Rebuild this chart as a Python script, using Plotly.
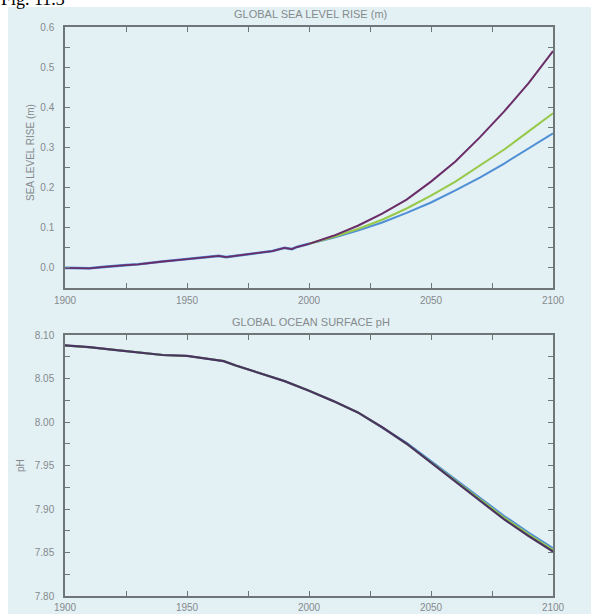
import plotly.graph_objects as go

W, H = 591, 614

# ---------------- data ----------------
hist_years = [1900, 1905, 1910, 1915, 1920, 1925, 1930, 1935, 1940, 1945, 1950, 1955,
              1960, 1963, 1966, 1970, 1975, 1980, 1985, 1990, 1993, 1995]
hist_slr = [0.0, 0.0, -0.001, 0.002, 0.005, 0.007, 0.009, 0.013, 0.016, 0.019, 0.022, 0.025,
            0.028, 0.030, 0.027, 0.030, 0.034, 0.039, 0.042, 0.050, 0.047, 0.052]

proj_years = [2000, 2010, 2020, 2030, 2040, 2050, 2060, 2070, 2080, 2090, 2100]
slr_purple = [0.060, 0.080, 0.105, 0.135, 0.170, 0.215, 0.265, 0.325, 0.390, 0.460, 0.540]
slr_green = [0.060, 0.077, 0.097, 0.120, 0.148, 0.180, 0.215, 0.255, 0.295, 0.340, 0.385]
slr_blue = [0.060, 0.075, 0.093, 0.113, 0.137, 0.163, 0.193, 0.225, 0.260, 0.297, 0.335]

ph_years = [1900, 1910, 1920, 1930, 1935, 1940, 1950, 1960, 1965, 1970, 1980, 1990,
            2000, 2010, 2020, 2030, 2040, 2050, 2060, 2070, 2080, 2090, 2100]
ph_purple = [8.088, 8.086, 8.083, 8.080, 8.078, 8.077, 8.076, 8.072, 8.070, 8.065, 8.056, 8.047,
             8.036, 8.024, 8.011, 7.994, 7.975, 7.953, 7.931, 7.909, 7.888, 7.869, 7.851]
ph_green = [8.088, 8.086, 8.083, 8.080, 8.078, 8.077, 8.076, 8.072, 8.070, 8.065, 8.056, 8.047,
            8.036, 8.024, 8.011, 7.994, 7.975, 7.954, 7.932, 7.911, 7.890, 7.871, 7.853]
ph_blue = [8.088, 8.086, 8.083, 8.080, 8.078, 8.077, 8.076, 8.072, 8.070, 8.065, 8.056, 8.047,
           8.036, 8.024, 8.011, 7.994, 7.976, 7.955, 7.934, 7.913, 7.892, 7.873, 7.855]

x_tickvals = [1900, 1925, 1950, 1975, 2000, 2025, 2050, 2075, 2100]
x_ticktext = ["1900", "", "1950", "", "2000", "", "2050", "", "2100"]
slr_tickvals = [0.0, 0.05, 0.1, 0.15, 0.2, 0.25, 0.3, 0.35, 0.4, 0.45, 0.5, 0.55, 0.6]
slr_ticktext = ["0.0", "", "0.1", "", "0.2", "", "0.3", "", "0.4", "", "0.5", "", "0.6"]
ph_tickvals = [7.80, 7.825, 7.85, 7.875, 7.90, 7.925, 7.95, 7.975, 8.00, 8.025, 8.05, 8.075, 8.10]
ph_ticktext = ["7.80", "", "7.85", "", "7.90", "", "7.95", "", "8.00", "", "8.05", "", "8.10"]

# ---------------- style ----------------
PURPLE = "#6a2d68"
GREEN = "#96c94a"
BLUE = "#4f8fd6"
BG = "#e3f0f4"
AX = "#6f7678"
TXT = "#858b8d"
FONT = "Liberation Sans"

fig = go.Figure()

def add_series(x, y, color, xa, ya, width=2):
    fig.add_trace(go.Scatter(x=x, y=y, mode="lines", line=dict(color=color, width=width),
                             xaxis=xa, yaxis=ya, showlegend=False, hoverinfo="skip"))

# top panel
add_series(proj_years, slr_blue, BLUE, "x", "y")
add_series(proj_years, slr_green, GREEN, "x", "y")
add_series(proj_years, slr_purple, PURPLE, "x", "y")
add_series(hist_years + [2000], hist_slr + [0.060], BLUE, "x", "y", 2.6)
add_series(hist_years + [2000], hist_slr + [0.060], PURPLE, "x", "y", 1.8)

# bottom panel
add_series(ph_years, ph_blue, BLUE, "x2", "y2", 2)
add_series(ph_years, ph_green, GREEN, "x2", "y2", 2)
add_series(ph_years, ph_purple, "#4a3560", "x2", "y2", 2.2)

xdom = [65 / W, 553 / W]
top_dom = [(H - 288) / H, (H - 27) / H]
bot_dom = [(H - 596) / H, (H - 335) / H]

common_axis = dict(showline=True, linecolor=AX, linewidth=1.5, mirror="ticks",
                   ticks="inside", ticklen=5, tickwidth=1.2, tickcolor=AX,
                   showgrid=False, zeroline=False, automargin=False,
                   tickfont=dict(family=FONT, size=10, color=TXT))

fig.update_layout(
    width=W, height=H,
    margin=dict(l=0, r=0, t=0, b=0, autoexpand=False),
    paper_bgcolor="white",
    plot_bgcolor="rgba(0,0,0,0)",
    xaxis=dict(domain=xdom, range=[1900, 2100], tickvals=x_tickvals, ticktext=x_ticktext,
               anchor="y", ticklabelstandoff=2, **common_axis),
    yaxis=dict(domain=top_dom, range=[-0.05, 0.6], tickvals=slr_tickvals, ticktext=slr_ticktext,
               anchor="x", ticklabelstandoff=7, **common_axis),
    xaxis2=dict(domain=xdom, range=[1900, 2100], tickvals=x_tickvals, ticktext=x_ticktext,
                anchor="y2", ticklabelstandoff=1, **common_axis),
    yaxis2=dict(domain=bot_dom, range=[7.80, 8.10], tickvals=ph_tickvals, ticktext=ph_ticktext,
                anchor="x2", ticklabelstandoff=7, **common_axis),
    shapes=[dict(type="rect", xref="paper", yref="paper", x0=8 / W, x1=1, y0=0, y1=(H - 7) / H,
                 fillcolor=BG, line=dict(width=0), layer="below")],
)

def ann(text, x_px, y_px, size=11, color=TXT, angle=0, family=FONT, xanchor="center", yanchor="middle"):
    fig.add_annotation(text=text, xref="paper", yref="paper", x=x_px / W, y=(H - y_px) / H,
                       showarrow=False, textangle=angle, xanchor=xanchor, yanchor=yanchor,
                       font=dict(family=family, size=size, color=color))

ann("GLOBAL SEA LEVEL RISE (m)", 311, 14, size=11)
ann("GLOBAL OCEAN SURFACE pH", 311, 322, size=11)
ann("SEA LEVEL RISE (m)", 30, 153, size=10, angle=-90)
ann("pH", 20, 466, size=10, angle=-90)
ann("Fig. 11.3", -1, -13, size=18, color="black", family="Liberation Serif",
    xanchor="left", yanchor="top")

fig.write_html("out.html",
               config={"displayModeBar": False},
               post_script="document.body.style.margin='0';document.body.style.overflow='hidden';")
